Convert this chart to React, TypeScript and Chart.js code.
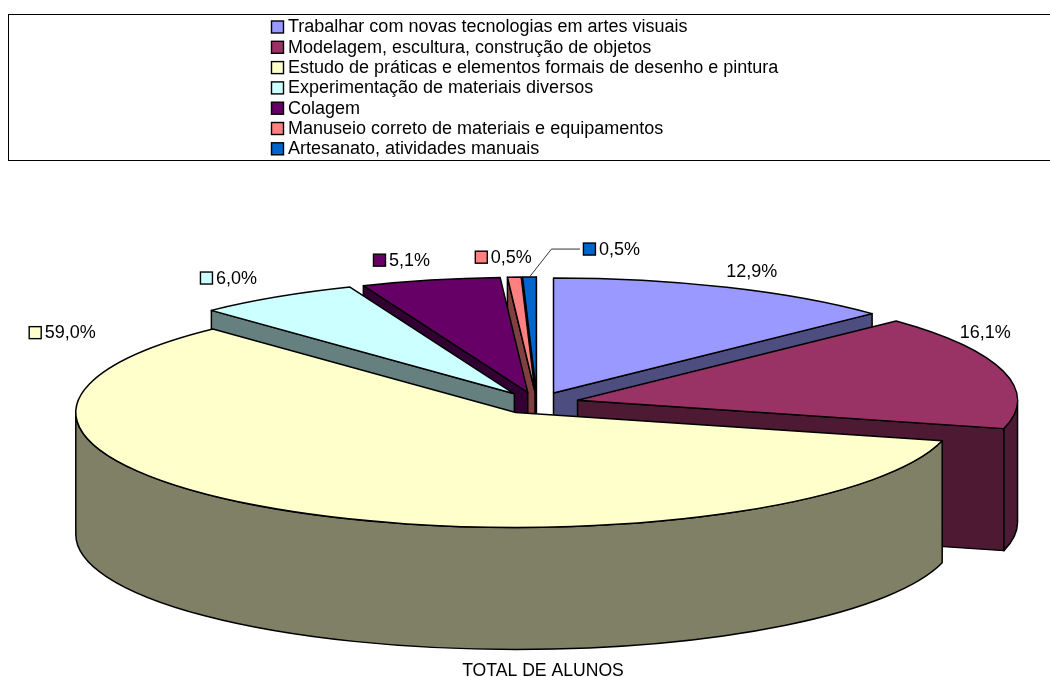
import React, { useEffect, useRef } from "react";
import { Chart, registerables } from "chart.js";

Chart.register(...registerables);

const categories = [
  "Trabalhar com novas tecnologias em artes visuais",
  "Modelagem, escultura, construção de objetos",
  "Estudo de práticas e elementos formais de desenho e pintura",
  "Experimentação de materiais diversos",
  "Colagem",
  "Manuseio correto de materiais e equipamentos",
  "Artesanato, atividades manuais",
];
const values = [12.9, 16.1, 59.0, 6.0, 5.1, 0.5, 0.5];
const valueLabels = ["12,9%", "16,1%", "59,0%", "6,0%", "5,1%", "0,5%", "0,5%"];
const sliceColors = ["#9999FF", "#993366", "#FFFFCC", "#CCFFFF", "#660066", "#FF8080", "#0066CC"];
const wallColors = ["#4D4D80", "#4D1933", "#808066", "#668080", "#330033", "#804040", "#003366"];
const showKeys = [false, false, true, true, true, true, true];
const seriesTitle = "TOTAL DE ALUNOS";

// Style and layout
const FONT = '"Liberation Sans", Arial, sans-serif';
const RX = 440;
const RY = 115;
const DEPTH = 122;
const labelNudges = [
  [25, -16],
  [-18, -39],
  [-223, -179],
  [-40, -19],
  [-21, -20],
  [-3, -20],
  [90, -28],
];

const pie3d = {
  id: "pie3d",
  beforeDatasetsDraw(chart: any) {
    const ctx: CanvasRenderingContext2D = chart.ctx;
    const arcs = chart.getDatasetMeta(0).data;
    const colors = chart.data.datasets[0].backgroundColor;

    const geo = arcs.map((arc: any, i: number) => {
      const { x, y, startAngle: s, endAngle: e, outerRadius: r } = arc;
      const mid = (s + e) / 2;
      const off = arc.options.offset / r;
      return {
        i,
        s,
        e,
        mid,
        ax: x + RX * off * Math.cos(mid),
        ay: y + RY * off * Math.sin(mid),
      };
    });

    ctx.save();
    ctx.lineWidth = 1.5;
    ctx.strokeStyle = "#000";
    ctx.lineJoin = "round";

    const paint = (fill: string) => {
      ctx.fillStyle = fill;
      ctx.fill();
      ctx.stroke();
    };
    const cutFace = (g: any, a: number, fill: string) => {
      const px = g.ax + RX * Math.cos(a);
      const py = g.ay + RY * Math.sin(a);
      ctx.beginPath();
      ctx.moveTo(g.ax, g.ay);
      ctx.lineTo(px, py);
      ctx.lineTo(px, py + DEPTH);
      ctx.lineTo(g.ax, g.ay + DEPTH);
      ctx.closePath();
      paint(fill);
    };

    const order = [...geo].sort((p: any, q: any) => Math.sin(p.mid) - Math.sin(q.mid));
    for (const g of order) {
      const wall = wallColors[g.i];
      if (Math.cos(g.s) < 0) cutFace(g, g.s, wall);
      if (Math.cos(g.e) > 0) cutFace(g, g.e, wall);
      const a0 = Math.max(g.s, 0);
      const a1 = Math.min(g.e, Math.PI);
      if (a1 > a0) {
        ctx.beginPath();
        ctx.ellipse(g.ax, g.ay, RX, RY, 0, a0, a1);
        ctx.ellipse(g.ax, g.ay + DEPTH, RX, RY, 0, a1, a0, true);
        ctx.closePath();
        paint(wall);
      }
      ctx.beginPath();
      ctx.moveTo(g.ax, g.ay);
      ctx.ellipse(g.ax, g.ay, RX, RY, 0, g.s, g.e);
      ctx.closePath();
      paint(colors[g.i]);
    }
    ctx.restore();
    return false;
  },
  afterDraw(chart: any) {
    const ctx: CanvasRenderingContext2D = chart.ctx;
    const arcs = chart.getDatasetMeta(0).data;
    const colors = chart.data.datasets[0].backgroundColor;
    const labels = chart.data.labels;

    ctx.save();
    ctx.textBaseline = "middle";
    ctx.fillStyle = "#000";

    // Legend frame and rows
    ctx.strokeStyle = "#000";
    ctx.lineWidth = 1;
    ctx.strokeRect(8.5, 14.5, 1050, 146);
    ctx.font = `18px ${FONT}`;
    labels.forEach((text: string, i: number) => {
      const cy = 27 + 20.3 * i;
      ctx.fillStyle = colors[i];
      ctx.fillRect(271.5, cy - 6, 12, 12);
      ctx.lineWidth = 1.4;
      ctx.strokeRect(271.5, cy - 6, 12, 12);
      ctx.fillStyle = "#000";
      ctx.textAlign = "left";
      ctx.fillText(text, 288, cy + 0.5);
    });

    // Data labels
    arcs.forEach((arc: any, i: number) => {
      const mid = (arc.startAngle + arc.endAngle) / 2;
      const off = 1 + arc.options.offset / arc.outerRadius;
      const x = arc.x + RX * off * Math.cos(mid) + labelNudges[i][0];
      const y = arc.y + RY * off * Math.sin(mid) + labelNudges[i][1];
      const text = valueLabels[i];
      const w = ctx.measureText(text).width;
      const left = x - w / 2;
      ctx.fillStyle = "#000";
      ctx.textAlign = "left";
      ctx.fillText(text, left, y + 0.5);
      if (showKeys[i]) {
        ctx.fillStyle = colors[i];
        ctx.fillRect(left - 15.5, y - 6, 12, 12);
        ctx.lineWidth = 1.4;
        ctx.strokeRect(left - 15.5, y - 6, 12, 12);
      }
      if (i === arcs.length - 1) {
        // Leader line from the small slice to its label
        const sx = arc.x + RX * off * Math.cos(mid);
        const sy = arc.y + RY * off * Math.sin(mid);
        ctx.strokeStyle = "#333";
        ctx.lineWidth = 1;
        ctx.beginPath();
        ctx.moveTo(sx, sy);
        ctx.lineTo(sx + 22, y);
        ctx.lineTo(left - 19, y);
        ctx.stroke();
      }
    });

    // Series name
    ctx.fillStyle = "#000";
    ctx.textAlign = "center";
    ctx.font = `17.6px ${FONT}`;
    ctx.fillText(seriesTitle, 543, 671);
    ctx.restore();
  },
};

export default function App() {
  const ref = useRef<HTMLCanvasElement>(null);
  useEffect(() => {
    const chart = new Chart(ref.current!, {
      type: "pie",
      data: {
        labels: categories,
        datasets: [
          {
            data: values,
            backgroundColor: sliceColors,
            borderWidth: 0,
            offset: 20,
          },
        ],
      },
      options: {
        animation: false,
        responsive: false,
        layout: { padding: { left: 317, right: 293, top: 183, bottom: 54 } },
        plugins: { legend: { display: false }, tooltip: { enabled: false }, title: { display: false } },
      },
      plugins: [pie3d],
    } as any);
    return () => chart.destroy();
  }, []);
  return (
    <canvas
      ref={ref}
      width={1050}
      height={677}
      style={{ position: "absolute", left: 0, top: 0, display: "block" }}
    />
  );
}
